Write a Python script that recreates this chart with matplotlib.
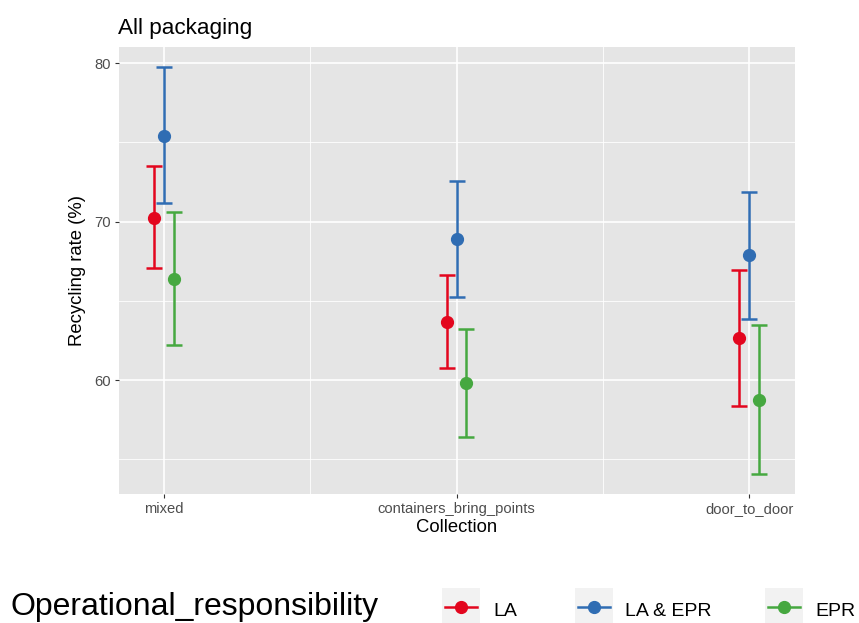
import numpy as np
import matplotlib.pyplot as plt
from matplotlib.patches import Rectangle
from matplotlib.lines import Line2D

plt.rcParams['font.family'] = ['Liberation Sans', 'DejaVu Sans']

# categories and groups
collection = ['mixed', 'containers_bring_points', 'door_to_door']
groups = ['LA', 'LA & EPR', 'EPR']
colors = ['#E3061E', '#306DB3', '#46A840']

# recycling rate (%) mean and interval per group
la_mean = [70.23, 63.68, 62.67]
la_low = [67.05, 60.76, 58.39]
la_high = [73.49, 66.64, 66.97]

laepr_mean = [75.41, 68.91, 67.87]
laepr_low = [71.15, 65.22, 63.82]
laepr_high = [79.73, 72.56, 71.89]

epr_mean = [66.38, 59.79, 58.76]
epr_low = [62.19, 56.38, 54.07]
epr_high = [70.57, 63.20, 63.46]

means = [la_mean, laepr_mean, epr_mean]
lows = [la_low, laepr_low, epr_low]
highs = [la_high, laepr_high, epr_high]

W, H = 859, 623
fig = plt.figure(figsize=(W / 100, H / 100), dpi=100)
ax = fig.add_axes([119 / W, 1 - 494 / H, (795 - 119) / W, (494 - 47) / H])
ax.set_facecolor('#E5E5E5')

x = np.arange(len(collection))
dodge = 0.033
for i, g in enumerate(groups):
    xi = x + (i - 1) * dodge
    m = np.array(means[i])
    lo = m - np.array(lows[i])
    hi = np.array(highs[i]) - m
    ax.errorbar(xi, m, yerr=[lo, hi], fmt='o', color=colors[i], ecolor=colors[i],
                elinewidth=1.8, capsize=5.5, capthick=1.8, markersize=8.5, zorder=3)

ax.set_xlim(-0.154, 2.157)
ax.set_ylim(52.81, 81.01)
ax.set_yticks([60, 70, 80])
ax.set_yticks([55, 65, 75], minor=True)
ax.set_xticks(x)
ax.set_xticks([0.5, 1.5], minor=True)
ax.set_xticklabels(collection)
ax.grid(True, which='major', color='white', linewidth=1.2)
ax.grid(True, which='minor', color='white', linewidth=0.6)
ax.set_axisbelow(True)
for s in ax.spines.values():
    s.set_visible(False)
ax.tick_params(which='major', length=3, color='#333333', labelsize=10.6, labelcolor='#4D4D4D', pad=3)
ax.tick_params(which='minor', length=0)
ax.set_xlabel('Collection', fontsize=13.3, labelpad=2)
ax.set_ylabel('Recycling rate (%)', fontsize=13.3, labelpad=6)

fig.text(118 / W, 1 - 34 / H, 'All packaging', fontsize=16.2, ha='left', va='baseline')

# legend drawn by hand at the bottom
fig.text(10 / W, 1 - 615 / H, 'Operational_responsibility', fontsize=23, ha='left', va='baseline')
keys = [(442, 493), (575, 625), (765, 815)]
for (kx, lx), c, g in zip(keys, colors, groups):
    fig.add_artist(Rectangle((kx / W, 1 - 628 / H), 38 / W, 40 / H,
                             transform=fig.transFigure, facecolor='#F2F2F2', edgecolor='none'))
    fig.add_artist(Line2D([(kx + 3) / W, (kx + 35) / W], [1 - 607 / H, 1 - 607 / H],
                          transform=fig.transFigure, color=c, linewidth=1.8))
    fig.add_artist(Line2D([(kx + 19) / W], [1 - 607 / H], transform=fig.transFigure,
                          color=c, marker='o', markersize=8.5))
    fig.text(lx / W, 1 - 616 / H, g, fontsize=14, ha='left', va='baseline')

fig.savefig('out.png', dpi=100)
